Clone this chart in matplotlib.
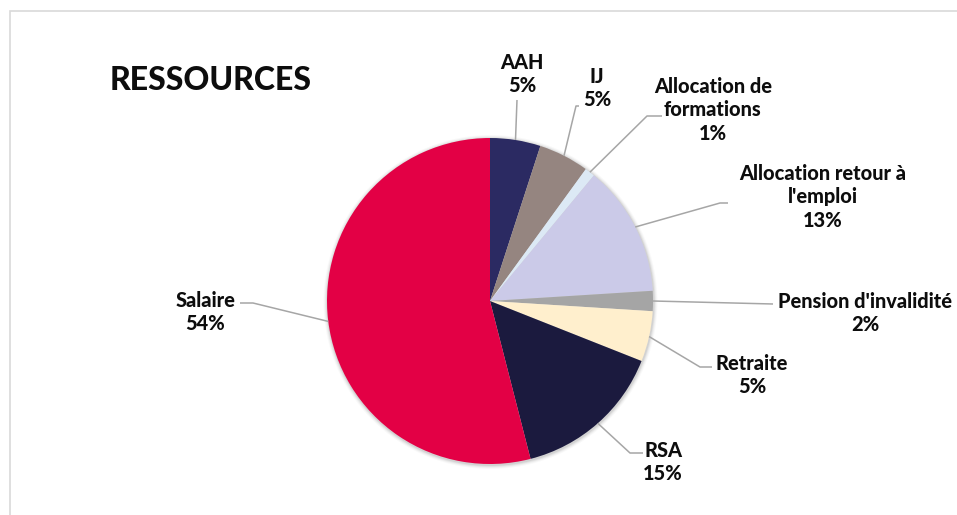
import matplotlib
matplotlib.use("Agg")
import numpy as np
import matplotlib.pyplot as plt
from matplotlib.patches import Rectangle, Circle

# Data
categories = ["AAH", "IJ", "Allocation de\nformations", "Allocation retour à\nl'emploi",
              "Pension d'invalidité", "Retraite", "RSA", "Salaire"]
shares = [5, 5, 1, 13, 2, 5, 15, 54]
colors = ["#2B2A62", "#958580", "#DCE9F5", "#CBCAE8", "#A5A5A5", "#FFEFCD", "#1B1A3E", "#E30045"]
title = "RESSOURCES"

# Layout (pixel space, y measured from top)
W, H = 957, 515
center_px = (490, 301)
radius_px = 163
label_pos = [(522, 74), (597, 88), (713, 110), (823, 197),
             (865, 313), (752, 375), (663, 462), (205, 312)]
leader_start = [[(517, 100)],
                [(579, 106), (576, 106)],
                [(662, 116), (647, 116)],
                [(728, 203), (720, 203)],
                [(773, 304)],
                [(712, 367), (700, 367)],
                [(643, 453), (630, 453)],
                [(240, 303), (253, 303)]]

plt.rcParams['font.family'] = ['Lato', 'DejaVu Sans']

fig = plt.figure(figsize=(W / 100, H / 100), dpi=100)
ax = fig.add_axes([0, 0, 1, 1])


def Y(y):
    return H - y


cx, cy = center_px[0], Y(center_px[1])

# soft shadow under the pie
for k, a in zip([4, 3, 2, 1], [0.025, 0.035, 0.05, 0.07]):
    ax.add_patch(Circle((cx + 0.5, cy - 1), radius_px + k, color="black",
                        alpha=a, linewidth=0, zorder=1))

wedges, _ = ax.pie(shares, colors=colors, startangle=90, counterclock=False,
                   center=(cx, cy), radius=radius_px, frame=True,
                   wedgeprops=dict(linewidth=0, zorder=2))
ax.set_xlim(0, W)
ax.set_ylim(0, H)
ax.set_aspect('equal')
ax.axis('off')

# outer chart frame
ax.add_patch(Rectangle((9.5, Y(600)), 1200, 600 - 11, fill=False,
                       edgecolor="#D9D9D9", linewidth=1.2, zorder=0))

for w, cat, val, pos, pts in zip(wedges, categories, shares, label_pos, leader_start):
    mid = np.deg2rad((w.theta1 + w.theta2) / 2)
    ex = cx + radius_px * np.cos(mid)
    ey = cy + radius_px * np.sin(mid)
    xs = [p[0] for p in pts] + [ex]
    ys = [Y(p[1]) for p in pts] + [ey]
    ax.plot(xs, ys, color="#A6A6A6", linewidth=1.1, zorder=3, solid_capstyle='butt')
    ax.text(pos[0], Y(pos[1]), f"{cat}\n{val}%", ha="center", va="center",
            fontsize=14.4, fontweight=900, color="#0D0D0D", linespacing=1.3,
            zorder=4)

ax.text(110, Y(80), title, ha="left", va="center", fontsize=23,
        fontweight=900, color="#0D0D0D")

fig.savefig("out.png", dpi=100, facecolor="white")
